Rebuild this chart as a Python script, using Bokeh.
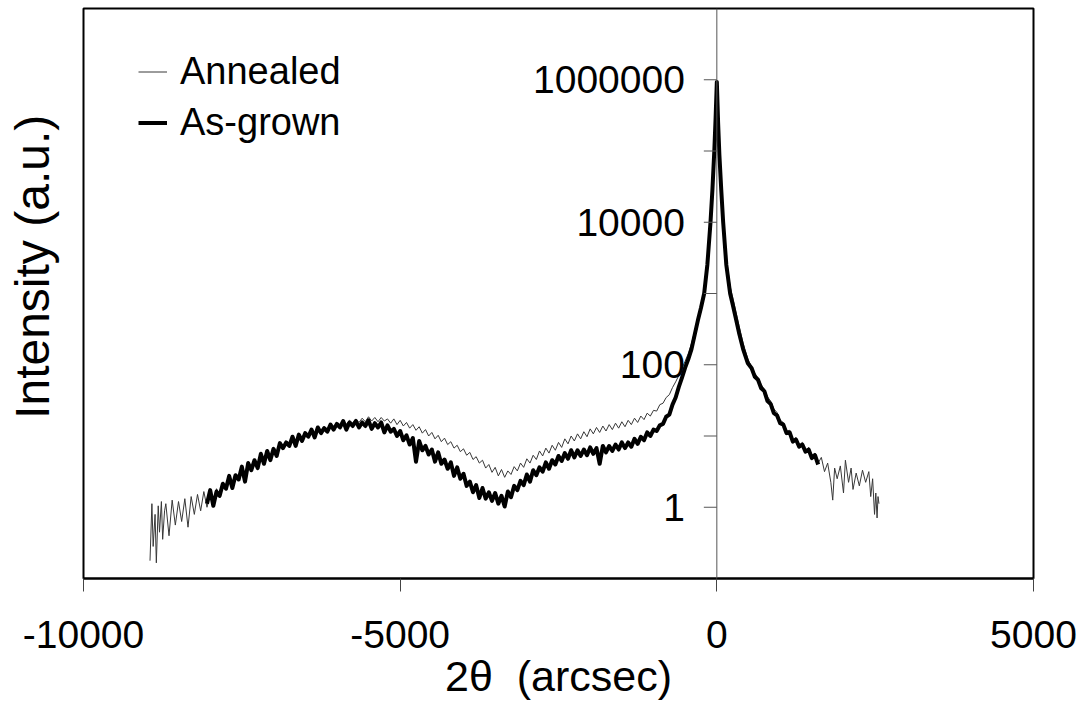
import numpy as np
from bokeh.plotting import figure
from bokeh.models import Range1d, FixedTicker, Span, Legend, LegendItem
from bokeh.core.properties import value
from bokeh.embed import file_html
from bokeh.resources import INLINE

FONT = "Liberation Sans"

# ---------------- data ----------------
# 2theta in arcsec, intensity stored as log10(counts)
asgrown_x = [
    -8050, -8000, -7950, -7900, -7850, -7800, -7750, -7700, -7650, -7600,
    -7550, -7500, -7450, -7400, -7350, -7300, -7250, -7200, -7150, -7100,
    -7050, -7000, -6950, -6900, -6850, -6800, -6750, -6700, -6650, -6600,
    -6550, -6500, -6450, -6400, -6350, -6300, -6250, -6200, -6150, -6100,
    -6050, -6000, -5950, -5900, -5850, -5800, -5750, -5700, -5650, -5600,
    -5550, -5500, -5450, -5400, -5350, -5300, -5250, -5200, -5150, -5100,
    -5050, -5000, -4950, -4900, -4850, -4800, -4750, -4700, -4650, -4600,
    -4550, -4500, -4450, -4400, -4350, -4300, -4250, -4200, -4150, -4100,
    -4050, -4000, -3950, -3900, -3850, -3800, -3750, -3700, -3650, -3600,
    -3550, -3500, -3450, -3400, -3350, -3300, -3250, -3200, -3150, -3100,
    -3050, -3000, -2950, -2900, -2850, -2800, -2750, -2700, -2650, -2600,
    -2550, -2500, -2450, -2400, -2350, -2300, -2250, -2200, -2150, -2100,
    -2050, -2000, -1950, -1900, -1850, -1800, -1750, -1700, -1650, -1600,
    -1550, -1500, -1450, -1400, -1350, -1300, -1250, -1200, -1150, -1100,
    -1050, -1000, -950, -900, -850, -800, -750, -700, -650, -600,
    -550, -500, -450, -400, -350, -300, -250, -200, -150, -100,
    -70, -40, -20, 0, 20, 40, 70, 100, 150, 210,
    250, 300, 350, 415, 490, 550, 600, 650, 700, 750,
    800, 850, 900, 950, 1000, 1050, 1100, 1150, 1200, 1250,
    1300, 1350, 1400, 1450, 1500, 1550, 1600,
]
asgrown_log10 = [
    0.05, 0.24, 0.02, 0.22, 0.16, 0.33, 0.26, 0.44, 0.27, 0.45,
    0.39, 0.57, 0.36, 0.62, 0.52, 0.66, 0.55, 0.75, 0.61, 0.79,
    0.66, 0.82, 0.72, 0.90, 0.83, 0.91, 0.86, 0.99, 0.86, 1.02,
    0.93, 1.04, 0.99, 1.09, 0.98, 1.12, 1.04, 1.11, 1.06, 1.16,
    1.09, 1.17, 1.12, 1.21, 1.09, 1.19, 1.14, 1.21, 1.12, 1.19,
    1.14, 1.22, 1.10, 1.18, 1.12, 1.19, 1.05, 1.15, 1.06, 1.10,
    1.00, 1.07, 0.94, 1.01, 0.88, 0.97, 0.64, 0.93, 0.80, 0.86,
    0.74, 0.81, 0.64, 0.77, 0.61, 0.67, 0.54, 0.63, 0.44, 0.56,
    0.40, 0.47, 0.30, 0.36, 0.21, 0.31, 0.13, 0.27, 0.12, 0.21,
    0.09, 0.20, 0.05, 0.16, 0.01, 0.22, 0.14, 0.30, 0.24, 0.37,
    0.31, 0.46, 0.36, 0.52, 0.45, 0.56, 0.50, 0.63, 0.54, 0.66,
    0.60, 0.72, 0.65, 0.76, 0.68, 0.80, 0.70, 0.80, 0.72, 0.81,
    0.73, 0.84, 0.75, 0.83, 0.61, 0.86, 0.77, 0.86, 0.79, 0.88,
    0.81, 0.91, 0.83, 0.91, 0.85, 0.96, 0.89, 0.99, 0.94, 1.05,
    1.00, 1.09, 1.07, 1.15, 1.17, 1.27, 1.30, 1.44, 1.54, 1.69,
    1.82, 1.96, 2.08, 2.22, 2.42, 2.62, 2.80, 3.00, 3.40, 4.00,
    4.45, 5.00, 5.45, 5.97, 5.40, 4.95, 4.45, 4.00, 3.40, 3.00,
    2.85, 2.65, 2.45, 2.22, 2.02, 1.95, 1.83, 1.79, 1.67, 1.63,
    1.49, 1.45, 1.32, 1.29, 1.18, 1.16, 1.04, 1.05, 0.92, 0.95,
    0.85, 0.88, 0.78, 0.81, 0.69, 0.73, 0.60,
]

annealed_x = [
    -8950, -8920, -8900, -8870, -8850, -8820, -8800, -8770, -8750, -8720,
    -8700, -8650, -8600, -8550, -8500, -8450, -8400, -8350, -8300, -8250,
    -8200, -8150, -8100, -8050, -8000, -7950, -7900, -7850, -7800, -7750,
    -7700, -7650, -7600, -7550, -7500, -7450, -7400, -7350, -7300, -7250,
    -7200, -7150, -7100, -7050, -7000, -6950, -6900, -6850, -6800, -6750,
    -6700, -6650, -6600, -6550, -6500, -6450, -6400, -6350, -6300, -6250,
    -6200, -6150, -6100, -6050, -6000, -5950, -5900, -5850, -5800, -5750,
    -5700, -5650, -5600, -5550, -5500, -5450, -5400, -5350, -5300, -5250,
    -5200, -5150, -5100, -5050, -5000, -4950, -4900, -4850, -4800, -4750,
    -4700, -4650, -4600, -4550, -4500, -4450, -4400, -4350, -4300, -4250,
    -4200, -4150, -4100, -4050, -4000, -3950, -3900, -3850, -3800, -3750,
    -3700, -3650, -3600, -3550, -3500, -3450, -3400, -3350, -3300, -3250,
    -3200, -3150, -3100, -3050, -3000, -2950, -2900, -2850, -2800, -2750,
    -2700, -2650, -2600, -2550, -2500, -2450, -2400, -2350, -2300, -2250,
    -2200, -2150, -2100, -2050, -2000, -1950, -1900, -1850, -1800, -1750,
    -1700, -1650, -1600, -1550, -1500, -1450, -1400, -1350, -1300, -1250,
    -1200, -1150, -1100, -1050, -1000, -950, -900, -850, -800, -750,
    -700, -650, -600, -550, -500, -450, -400, -350, -300, -250,
    -200, -150, -100, -70, -40, -20, 0, 20, 40, 70,
    100, 150, 210, 250, 300, 350, 415, 490, 550, 600,
    650, 700, 750, 800, 850, 900, 950, 1000, 1050, 1100,
    1150, 1200, 1250, 1300, 1350, 1400, 1450, 1500, 1550, 1600,
    1650, 1700, 1750, 1800, 1830, 1860, 1900, 1950, 2000, 2030,
    2080, 2120, 2150, 2200, 2250, 2300, 2350, 2400, 2430, 2460,
    2490, 2510, 2530, 2545, 2560,
]
annealed_log10 = [
    -0.75, 0.05, -0.55, -0.10, -0.78, 0.02, -0.35, 0.08, -0.45, -0.05,
    0.05, -0.40, 0.10, -0.25, 0.08, -0.20, 0.12, -0.28, 0.15, -0.10,
    0.18, -0.05, 0.22, 0.00, 0.20, 0.10, 0.26, 0.16, 0.34, 0.27,
    0.41, 0.34, 0.45, 0.40, 0.52, 0.46, 0.58, 0.53, 0.66, 0.60,
    0.71, 0.66, 0.76, 0.72, 0.82, 0.78, 0.87, 0.83, 0.92, 0.88,
    0.96, 0.92, 1.00, 0.96, 1.05, 1.00, 1.08, 1.04, 1.11, 1.07,
    1.13, 1.10, 1.16, 1.12, 1.18, 1.15, 1.21, 1.17, 1.22, 1.18,
    1.24, 1.19, 1.25, 1.20, 1.27, 1.21, 1.26, 1.20, 1.26, 1.21,
    1.24, 1.18, 1.24, 1.16, 1.22, 1.14, 1.19, 1.11, 1.16, 1.08,
    1.13, 1.04, 1.09, 1.00, 1.05, 0.96, 1.01, 0.92, 0.97, 0.88,
    0.92, 0.83, 0.87, 0.78, 0.82, 0.73, 0.77, 0.67, 0.71, 0.62,
    0.66, 0.55, 0.60, 0.49, 0.56, 0.44, 0.53, 0.42, 0.51, 0.46,
    0.57, 0.51, 0.62, 0.56, 0.68, 0.62, 0.73, 0.67, 0.79, 0.72,
    0.83, 0.76, 0.87, 0.80, 0.91, 0.84, 0.96, 0.89, 1.00, 0.93,
    1.03, 0.96, 1.06, 0.99, 1.10, 1.03, 1.12, 1.05, 1.14, 1.07,
    1.16, 1.09, 1.18, 1.11, 1.20, 1.13, 1.22, 1.16, 1.25, 1.19,
    1.28, 1.23, 1.32, 1.28, 1.36, 1.35, 1.44, 1.46, 1.54, 1.58,
    1.68, 1.76, 1.85, 1.95, 2.05, 2.16, 2.30, 2.47, 2.66, 2.84,
    3.04, 3.44, 4.04, 4.50, 5.05, 5.50, 5.95, 5.45, 5.00, 4.52,
    4.08, 3.50, 3.10, 2.95, 2.75, 2.55, 2.30, 2.08, 1.97, 1.88,
    1.82, 1.72, 1.66, 1.55, 1.49, 1.38, 1.33, 1.22, 1.19, 1.07,
    1.08, 0.95, 0.98, 0.87, 0.91, 0.80, 0.84, 0.73, 0.76, 0.62,
    0.70, 0.50, 0.62, 0.35, 0.10, 0.55, 0.40, 0.58, 0.20, 0.66,
    0.35, 0.55, 0.25, 0.48, 0.30, 0.52, 0.35, 0.50, 0.15, 0.40,
    -0.10, 0.20, -0.15, 0.15, 0.05,
]

x_ticks = [-10000, -5000, 0, 5000]
x_tick_labels = ["-10000", "-5000", "0", "5000"]
y_tick_marks = [1, 10, 100, 1000, 10000, 100000, 1000000]
y_label_vals = [1, 100, 10000, 1000000]
y_label_text = ["1", "100", "10000", "1000000"]
series_names = ["Annealed", "As-grown"]

# ---------------- figure ----------------
p = figure(width=1086, height=715, y_axis_type="log",
           x_range=Range1d(-10000, 5000), y_range=Range1d(0.1, 1e7),
           output_backend="svg", toolbar_location=None,
           min_border_left=83, min_border_right=53,
           min_border_top=8, min_border_bottom=137)
p.title.visible = False
p.outline_line_color = "black"
p.outline_line_width = 2
p.xgrid.visible = False
p.ygrid.visible = False
p.background_fill_color = "white"
p.border_fill_color = "white"

# x axis
xa = p.xaxis[0]
xa.ticker = FixedTicker(ticks=x_ticks, minor_ticks=[])
xa.major_label_overrides = {t: s for t, s in zip(x_ticks, x_tick_labels)}
xa.major_tick_out = 13
xa.major_tick_in = 0
xa.minor_tick_out = 0
xa.minor_tick_in = 0
xa.major_tick_line_color = "#444444"
xa.axis_line_color = "black"
xa.axis_line_width = 2
xa.major_label_text_font = FONT
xa.major_label_text_font_size = "39px"
xa.major_label_text_color = "black"
xa.major_label_standoff = 29
xa.axis_label = "2θ\u00a0\u00a0(arcsec)"
xa.axis_label_text_font = FONT
xa.axis_label_text_font_size = "43px"
xa.axis_label_text_font_style = "normal"
xa.axis_label_text_color = "black"
xa.axis_label_standoff = 1

# left axis: title only
ya = p.yaxis[0]
ya.ticker = FixedTicker(ticks=[], minor_ticks=[])
ya.axis_line_color = None
ya.major_tick_out = 0
ya.major_tick_in = 0
ya.minor_tick_out = 0
ya.minor_tick_in = 0
ya.axis_label = "\u00a0\u00a0\u00a0\u00a0Intensity (a.u.)"
ya.axis_label_text_font = FONT
ya.axis_label_text_font_size = "48px"
ya.axis_label_text_font_style = "normal"
ya.axis_label_text_color = "black"
ya.axis_label_standoff = 25

# curves
r_ann = p.line(annealed_x, 10 ** np.array(annealed_log10),
               line_color="#383838", line_width=1)
r_as = p.line(asgrown_x, 10 ** np.array(asgrown_log10),
              line_color="black", line_width=4, line_join="round")

# vertical axis at x = 0 with its ticks and labels
p.add_layout(Span(location=0, dimension="height", line_color="#555555", line_width=1))
p.ray(x=[0] * len(y_tick_marks), y=y_tick_marks, length=13, length_units="screen",
      angle=np.pi, line_color="#555555", line_width=1)
p.text(x=[0] * len(y_label_vals), y=y_label_vals, text=y_label_text,
       x_offset=-32, text_align="right", text_baseline="middle",
       text_font=value(FONT), text_font_size=value("39px"), text_color="black")

legend = Legend(items=[LegendItem(label=series_names[0], renderers=[r_ann]),
                       LegendItem(label=series_names[1], renderers=[r_as])],
                location=(55, 430), padding=0, spacing=0, margin=0,
                label_height=51, glyph_height=51, glyph_width=29,
                label_standoff=13, border_line_color=None,
                background_fill_alpha=0, label_text_font=FONT,
                label_text_font_size="38px", label_text_color="black")
p.add_layout(legend)

open("out.html", "w").write(file_html(p, INLINE))
